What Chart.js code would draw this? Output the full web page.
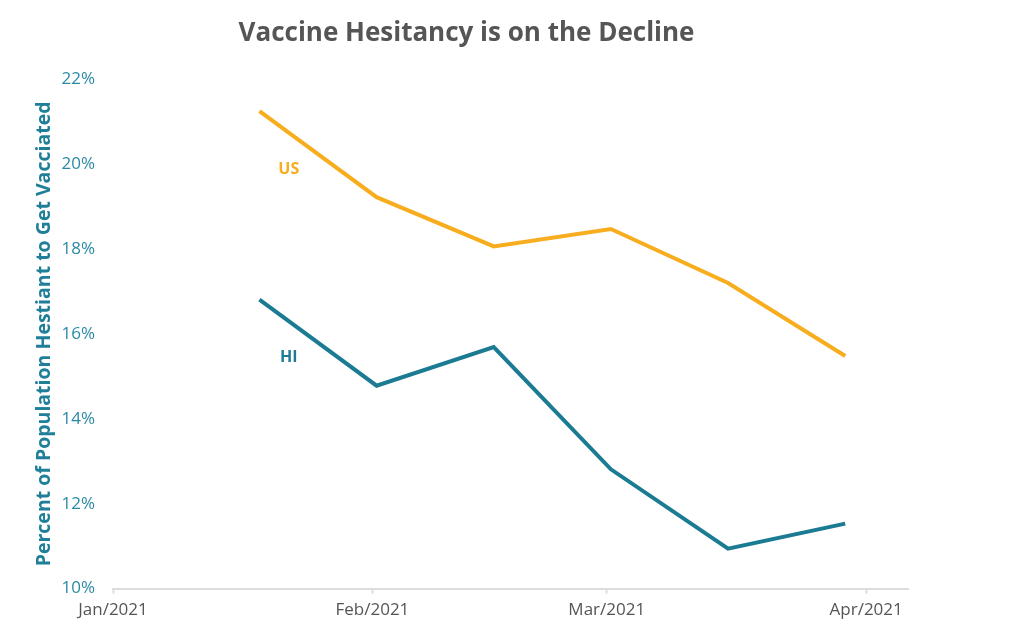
<!DOCTYPE html>
<html>
<head>
<meta charset="utf-8">
<script src="https://cdn.jsdelivr.net/npm/chart.js@4.4.1/dist/chart.umd.min.js"></script>
<style>
  html, body { margin: 0; padding: 0; background: #fff; }
  #wrap { position: relative; width: 926px; height: 626px; }
</style>
</head>
<body>
<div id="wrap"><canvas id="hesitancyChart"></canvas></div>
<script>
// Survey points, as days since Jan 1 2021
const surveyDays = [17.5, 31.5, 45.5, 59.5, 73.5, 87.5];
const usValues = [21.25, 19.22, 18.06, 18.47, 17.20, 15.48];
const hiValues = [16.81, 14.78, 15.69, 12.81, 10.94, 11.53];

// Month ticks on the x axis
const monthTickDays = [0, 31, 59, 90];
const monthTickLabels = ['Jan/2021', 'Feb/2021', 'Mar/2021', 'Apr/2021'];

// Inline series labels (day, percent)
const seriesNames = ['US', 'HI'];
const seriesLabelDays = [21.0, 21.0];
const seriesLabelValues = [19.88, 15.45];

const US_COLOR = '#F8AD1E';
const HI_COLOR = '#1B7B93';
const LEFT_PAD = 25;

function toPoints(values) {
    return values.map((v, i) => ({ x: surveyDays[i], y: v }));
}

// Draws "US" / "HI" next to their lines
const seriesLabelPlugin = {
    id: 'seriesLabels',
    afterDatasetsDraw(chart) {
        const { ctx, scales } = chart;
        ctx.save();
        ctx.font = 'bold 16px "Open Sans"';
        ctx.textAlign = 'center';
        ctx.textBaseline = 'middle';
        seriesNames.forEach((name, i) => {
            ctx.fillStyle = chart.data.datasets[i].borderColor;
            ctx.fillText(name,
                scales.x.getPixelForValue(seriesLabelDays[i]),
                scales.y.getPixelForValue(seriesLabelValues[i]));
        });
        ctx.restore();
    }
};

const ctx = document.getElementById('hesitancyChart').getContext('2d');
new Chart(ctx, {
    type: 'line',
    data: {
        datasets: [{
            label: 'US',
            data: toPoints(usValues),
            borderColor: US_COLOR,
            borderWidth: 4,
            pointRadius: 0,
            tension: 0
        }, {
            label: 'HI',
            data: toPoints(hiValues),
            borderColor: HI_COLOR,
            borderWidth: 4,
            pointRadius: 0,
            tension: 0
        }]
    },
    options: {
        responsive: true,
        maintainAspectRatio: false,
        animation: false,
        layout: {
            padding: { left: LEFT_PAD, right: 18, top: 0, bottom: 0 }
        },
        scales: {
            x: {
                type: 'linear',
                min: 0,
                max: 95,
                afterBuildTicks: scale => {
                    scale.ticks = monthTickDays.map(v => ({ value: v }));
                },
                ticks: {
                    autoSkip: false,
                    maxRotation: 0,
                    padding: 6,
                    color: '#555555',
                    font: { family: '"Open Sans"', size: 17 },
                    callback: value => monthTickLabels[monthTickDays.indexOf(value)]
                },
                grid: {
                    drawOnChartArea: false,
                    drawTicks: true,
                    tickLength: 5,
                    tickWidth: 2,
                    color: '#dddddd'
                },
                border: { display: true, color: '#dddddd', width: 2 }
            },
            y: {
                min: 10,
                max: 22,
                afterFit: scale => {
                    scale.width = 113 - LEFT_PAD;
                },
                ticks: {
                    stepSize: 2,
                    padding: 18,
                    color: '#2A8AA5',
                    font: { family: '"Open Sans"', size: 17 },
                    callback: value => value + '%'
                },
                grid: { display: false, drawTicks: false },
                border: { display: false },
                title: {
                    display: true,
                    text: 'Percent of Population Hestiant to Get Vacciated',
                    color: '#1F7F99',
                    font: { family: '"Open Sans"', size: 19.5, weight: 'bold' },
                    padding: { top: 8, bottom: 4 }
                }
            }
        },
        plugins: {
            legend: { display: false },
            tooltip: { enabled: false },
            title: {
                display: true,
                text: 'Vaccine Hesitancy is on the Decline',
                color: '#555555',
                font: { family: '"Open Sans"', size: 26, weight: 'bold' },
                padding: { top: 18, bottom: 30 }
            }
        }
    },
    plugins: [seriesLabelPlugin]
});
</script>
</body>
</html>
